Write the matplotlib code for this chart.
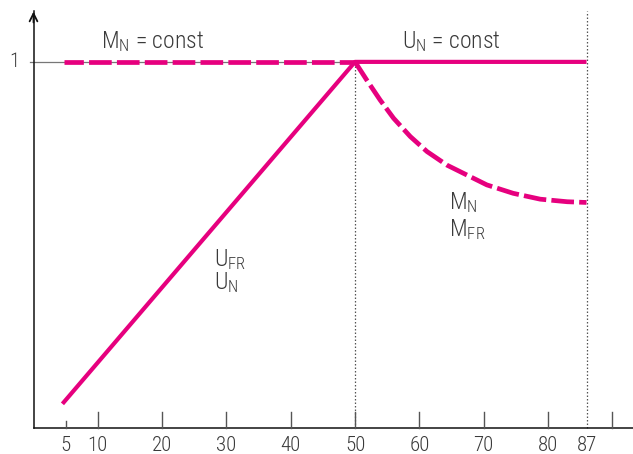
import matplotlib
matplotlib.use('Agg')
import matplotlib.pyplot as plt

MAGENTA = '#e6007e'
TEXT = '#3a3a3a'

plt.rcParams['font.family'] = ['Roboto Condensed', 'DejaVu Sans']
plt.rcParams['font.weight'] = 'light'
plt.rcParams['mathtext.fontset'] = 'custom'
plt.rcParams['mathtext.rm'] = 'Roboto Condensed:light'
plt.rcParams['mathtext.it'] = 'Roboto Condensed:light'
plt.rcParams['mathtext.default'] = 'rm'

# voltage U_FR / U_N: rises linearly up to 50, then constant
u_x = [4.5, 50, 86]
u_y = [0.066, 1.0, 1.0]

# torque M_N / M_FR: constant up to 50, then falls off
m_flat_x = [4.8, 50]
m_flat_y = [1.0, 1.0]
m_drop_x = [50, 51.8, 53.9, 56.0, 58.6, 61.2, 64.3, 67.4, 70.5, 74.6, 78.8, 83.0, 86]
m_drop_y = [1.0, 0.951, 0.896, 0.846, 0.796, 0.755, 0.718, 0.691, 0.664, 0.641, 0.625, 0.618, 0.616]

x_major = [10, 20, 30, 40, 50, 60, 70, 80, 90]
x_tick_pos = [5, 10, 20, 30, 40, 50, 60, 70, 80, 86]
x_tick_labels = ['5', '10', '20', '30', '40', '50', '60', '70', '80', '87']

fig = plt.figure(figsize=(6.33, 4.54), dpi=100)
ax = fig.add_axes([0, 0, 1, 1])
ax.set_xlim(-5.21, 93.23)
ax.set_ylim(-0.071, 1.169)
ax.axis('off')

# axes with open arrow heads
ax.plot([0, 0], [0, 1.14], color='#111111', lw=1.1)
ax.plot([0, 93.5], [0, 0], color='#111111', lw=1.1)
ax.annotate('', xy=(0, 1.145), xytext=(0, 1.10),
            arrowprops=dict(arrowstyle='->', color='#111111', lw=1.3, mutation_scale=14))
ax.annotate('', xy=(93.6, 0), xytext=(91, 0),
            arrowprops=dict(arrowstyle='->', color='#111111', lw=1.3, mutation_scale=14))

# ticks (drawn upward from the axis)
for xv in x_major:
    ax.plot([xv, xv], [0, 0.044], color='#555555', lw=1.0)
ax.plot([5, 5], [0, 0.02], color='#555555', lw=1.0)
for pos, lab in zip(x_tick_pos, x_tick_labels):
    ax.text(pos, -0.048, lab, ha='center', va='center', fontsize=15, color=TEXT)
ax.text(-2.2, 1.0, '1', ha='right', va='center', fontsize=15, color=TEXT)

# reference lines
ax.plot([-0.5, 50], [1, 1], color='#777777', lw=0.9, zorder=1)
ax.plot([50, 50], [0, 1], color='#555555', lw=0.9, linestyle=(0, (1.2, 1.6)), zorder=1)
ax.plot([86, 86], [0, 1.14], color='#555555', lw=0.9, linestyle=(0, (1.2, 1.6)), zorder=1)

# curves
ax.plot(u_x, u_y, color=MAGENTA, lw=3.0, solid_capstyle='butt', zorder=3)
ax.plot(m_flat_x, m_flat_y, color=MAGENTA, lw=3.4, linestyle=(-5.2, (4.8, 1.1)), zorder=2)
ax.plot(m_drop_x, m_drop_y, color=MAGENTA, lw=3.4, linestyle=(0, (4.8, 1.1)), zorder=2)

# labels
ax.text(10.5, 1.055, '$M_N$ = const', ha='left', va='center', fontsize=17, color=TEXT)
ax.text(57.3, 1.055, '$U_N$ = const', ha='left', va='center', fontsize=17, color=TEXT)
ax.text(28.1, 0.459, '$U_{FR}$', ha='left', va='center', fontsize=17, color=TEXT)
ax.text(28.1, 0.396, '$U_N$', ha='left', va='center', fontsize=17, color=TEXT)
ax.text(64.6, 0.617, '$M_N$', ha='left', va='center', fontsize=17, color=TEXT)
ax.text(64.6, 0.541, '$M_{FR}$', ha='left', va='center', fontsize=17, color=TEXT)

fig.savefig('out.png', dpi=100)
